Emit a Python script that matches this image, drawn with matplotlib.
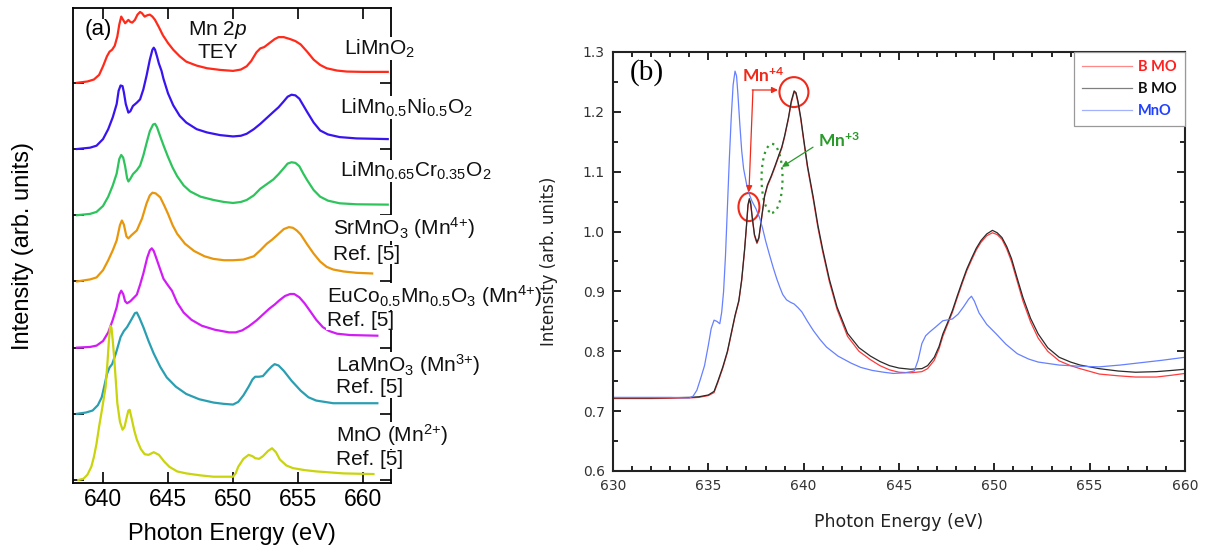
import matplotlib
matplotlib.use("Agg")
import matplotlib.pyplot as plt
from matplotlib.patches import Ellipse
from matplotlib.ticker import MultipleLocator, FormatStrFormatter

plt.rcParams['mathtext.fontset'] = 'custom'
plt.rcParams['mathtext.rm'] = 'Liberation Sans'
plt.rcParams['mathtext.it'] = 'Liberation Sans:italic'
plt.rcParams['mathtext.bf'] = 'Lato:bold'

# ---------------- Panel (a) data: Mn 2p TEY spectra (offset by integer) ----------------
limno2_e = [638.0, 638.8, 639.3, 639.7, 640.0, 640.3, 640.5, 640.7, 640.9, 641.1, 641.25, 641.4, 641.55, 641.7,
            641.85, 641.95, 642.1, 642.25, 642.45, 642.65, 642.85, 643.0, 643.2, 643.4, 643.6, 643.8, 644.0,
            644.3, 644.6, 645.0, 645.4, 645.9, 646.4, 647.2, 648.0, 649.0, 650.0, 650.6, 651.05, 651.4, 651.8,
            652.1, 652.4, 652.8, 653.2, 653.5, 653.9, 654.4, 654.8, 655.2, 655.7, 656.2, 656.7, 657.2, 658.0,
            658.75, 660.0, 661.9]
limno2_i = [0, 0.02, 0.05, 0.12, 0.25, 0.40, 0.47, 0.5, 0.56, 0.7, 0.88, 1.0, 0.95, 0.9,
            0.93, 0.95, 0.92, 0.91, 0.95, 1.03, 1.07, 1.05, 1.0, 1.02, 1.03, 1.0, 0.95,
            0.84, 0.72, 0.6, 0.5, 0.4, 0.32, 0.26, 0.22, 0.195, 0.18, 0.2, 0.25, 0.33, 0.46,
            0.52, 0.54, 0.6, 0.66, 0.69, 0.69, 0.66, 0.63, 0.58, 0.47, 0.35, 0.27, 0.22, 0.185,
            0.17, 0.165, 0.165]
lmno_ni_e = [638.0, 639.0, 639.5, 640.0, 640.4, 640.75, 641.05, 641.2, 641.35, 641.5, 641.6, 641.75, 641.95,
             642.1, 642.3, 642.6, 642.85, 643.1, 643.35, 643.6, 643.8, 643.9, 644.0, 644.15, 644.3, 644.5,
             644.65, 645.0, 645.4, 645.9, 646.4, 647.2, 648.0, 649.0, 650.0, 650.6, 651.05, 651.6, 652.1,
             652.6, 653.1, 653.5, 653.9, 654.2, 654.5, 654.8, 655.1, 655.4, 655.7, 656.2, 656.7, 657.3,
             658.2, 659.5, 661.9]
lmno_ni_i = [0, 0.02, 0.05, 0.15, 0.30, 0.48, 0.68, 0.88, 0.96, 0.95, 0.86, 0.68, 0.55,
             0.57, 0.65, 0.7, 0.75, 0.9, 1.11, 1.35, 1.5, 1.53, 1.5, 1.4, 1.29, 1.18,
             1.06, 0.84, 0.66, 0.5, 0.4, 0.3, 0.25, 0.21, 0.19, 0.2, 0.23, 0.3, 0.38,
             0.47, 0.56, 0.63, 0.72, 0.79, 0.82, 0.81, 0.76, 0.66, 0.56, 0.4, 0.28, 0.22,
             0.18, 0.16, 0.15]
lmno_cr_e = [638.0, 639.0, 639.5, 640.0, 640.4, 640.75, 641.05, 641.25, 641.4, 641.55, 641.7, 641.85, 641.95,
             642.1, 642.3, 642.6, 642.85, 643.1, 643.35, 643.6, 643.85, 644.0, 644.15, 644.4, 644.7, 645.0,
             645.35, 645.7, 646.2, 646.7, 647.5, 648.5, 649.3, 650.0, 650.6, 651.05, 651.6, 652.1, 652.6,
             653.1, 653.5, 653.9, 654.2, 654.5, 654.8, 655.1, 655.4, 655.7, 656.2, 656.7, 657.3, 658.2,
             659.5, 661.9]
lmno_cr_i = [0, 0.02, 0.05, 0.14, 0.28, 0.45, 0.63, 0.85, 0.91, 0.87, 0.74, 0.56, 0.51,
             0.55, 0.62, 0.68, 0.75, 0.9, 1.09, 1.27, 1.37, 1.38, 1.33, 1.19, 1.03, 0.88,
             0.72, 0.59, 0.45, 0.36, 0.28, 0.23, 0.2, 0.185, 0.2, 0.23, 0.3, 0.40, 0.47,
             0.54, 0.62, 0.71, 0.78, 0.8, 0.79, 0.74, 0.63, 0.53, 0.38, 0.28, 0.22, 0.18,
             0.165, 0.16]
srmno3_e = [638.0, 639.0, 639.5, 640.0, 640.4, 640.75, 641.05, 641.3, 641.45, 641.6, 641.8, 641.95, 642.2,
            642.6, 643.0, 643.35, 643.6, 643.8, 644.05, 644.4, 644.7, 645.0, 645.35, 645.7, 646.3, 647.0,
            647.8, 648.5, 649.3, 650.0, 650.8, 651.6, 652.1, 652.6, 653.0, 653.4, 653.9, 654.3, 654.6,
            654.9, 655.2, 655.7, 656.2, 656.7, 657.2, 657.7, 658.5, 659.5, 660.7]
srmno3_i = [0, 0.03, 0.06, 0.17, 0.32, 0.47, 0.62, 0.85, 0.92, 0.86, 0.68, 0.65, 0.7,
            0.77, 0.95, 1.18, 1.3, 1.34, 1.33, 1.27, 1.15, 1.02, 0.85, 0.72, 0.57, 0.46,
            0.38, 0.34, 0.32, 0.32, 0.33, 0.38, 0.47, 0.57, 0.63, 0.70, 0.79, 0.82, 0.81,
            0.77, 0.71, 0.56, 0.42, 0.3, 0.22, 0.18, 0.15, 0.13, 0.12]
eucomno_e = [638.0, 639.0, 639.5, 640.0, 640.4, 640.75, 641.05, 641.25, 641.4, 641.55, 641.7, 641.85, 642.1,
             642.4, 642.6, 642.85, 643.1, 643.4, 643.6, 643.75, 643.9, 644.1, 644.4, 644.65, 645.0, 645.3,
             645.7, 646.2, 646.8, 647.6, 648.6, 649.7, 650.2, 650.7, 651.2, 651.8, 652.3, 652.8, 653.2,
             653.6, 654.0, 654.4, 654.7, 655.1, 655.5, 655.9, 656.4, 656.9, 657.4, 658.0, 659.0, 661.1]
eucomno_i = [0, 0.01, 0.03, 0.1, 0.23, 0.42, 0.61, 0.8, 0.86, 0.81, 0.7, 0.67, 0.7,
             0.76, 0.8, 0.95, 1.12, 1.36, 1.47, 1.5, 1.46, 1.35, 1.18, 1.04, 0.94, 0.86,
             0.68, 0.53, 0.42, 0.33, 0.27, 0.23, 0.23, 0.26, 0.32, 0.41, 0.5, 0.59, 0.65,
             0.72, 0.78, 0.81, 0.81, 0.76, 0.67, 0.56, 0.42, 0.31, 0.25, 0.21, 0.19, 0.18]
lamno3_e = [638.0, 638.7, 639.2, 639.6, 639.9, 640.1, 640.3, 640.5, 640.7, 641.0, 641.35, 641.6, 641.85,
            642.2, 642.45, 642.6, 642.8, 643.1, 643.5, 643.9, 644.4, 644.9, 645.6, 646.4, 647.4, 648.5,
            649.3, 650.0, 650.4, 650.8, 651.2, 651.5, 651.7, 652.0, 652.3, 652.7, 653.0, 653.2, 653.5,
            653.9, 654.5, 655.2, 655.8, 656.4, 657.7, 659.5, 661.1]
lamno3_i = [0, 0.02, 0.05, 0.13, 0.25, 0.42, 0.6, 0.7, 0.75, 0.92, 1.16, 1.25, 1.31,
            1.43, 1.52, 1.53, 1.45, 1.31, 1.1, 0.91, 0.71, 0.55, 0.41, 0.30, 0.22, 0.17,
            0.15, 0.14, 0.18, 0.28, 0.41, 0.52, 0.56, 0.56, 0.57, 0.66, 0.72, 0.75, 0.73,
            0.65, 0.5, 0.35, 0.25, 0.2, 0.16, 0.16, 0.16]
mno_a_e = [638.1, 638.5, 638.8, 639.1, 639.3, 639.5, 639.7, 639.95, 640.2, 640.35, 640.45, 640.55, 640.65,
           640.75, 640.85, 641.0, 641.1, 641.3, 641.5, 641.65, 641.8, 641.95, 642.05, 642.2, 642.4, 642.6,
           642.9, 643.2, 643.5, 643.9, 644.3, 644.7, 645.1, 645.7, 646.4, 647.5, 648.5, 649.5, 650.0,
           650.2, 650.4, 650.8, 651.2, 651.5, 651.7, 652.0, 652.3, 652.7, 653.0, 653.3, 653.6, 654.1,
           654.6, 655.5, 656.4, 658.5, 660.8]
mno_a_i = [0, 0.02, 0.08, 0.2, 0.35, 0.55, 0.81, 1.1, 1.41, 1.8, 2.1, 2.33, 2.3,
           2.1, 1.87, 1.45, 1.16, 0.88, 0.76, 0.8, 0.93, 1.05, 1.06, 0.93, 0.75, 0.61,
           0.47, 0.39, 0.38, 0.42, 0.38, 0.28, 0.2, 0.13, 0.10, 0.07, 0.05, 0.05, 0.05,
           0.1, 0.2, 0.32, 0.38, 0.36, 0.33, 0.32, 0.36, 0.44, 0.48, 0.42, 0.31, 0.22,
           0.18, 0.15, 0.13, 0.1, 0.09]

a_offsets = [6, 5, 4, 3, 2, 1, 0]
a_colors = ['#ff2a1a', '#3a14f0', '#2ec45c', '#e8960c', '#d21cf5', '#2a9fb2', '#c9d40c']
a_curves = [(limno2_e, limno2_i), (lmno_ni_e, lmno_ni_i), (lmno_cr_e, lmno_cr_i), (srmno3_e, srmno3_i),
            (eucomno_e, eucomno_i), (lamno3_e, lamno3_i), (mno_a_e, mno_a_i)]

# ---------------- Panel (b) data ----------------
bmo_k_e = [630.0, 632.0, 634.0, 634.5, 635.0, 635.3, 635.5, 635.76, 636.0, 636.2, 636.4, 636.6, 636.75, 636.9,
           637.0, 637.08, 637.15, 637.22, 637.3, 637.42, 637.55, 637.65, 637.8, 637.95, 638.1, 638.3, 638.5,
           638.7, 638.85, 639.0, 639.2, 639.35, 639.5, 639.6, 639.7, 639.85, 640.0, 640.2, 640.5, 640.75,
           641.0, 641.35, 641.75, 642.3, 642.9, 643.5, 644.0, 644.5, 645.0, 645.6, 646.2, 646.5, 646.85,
           647.1, 647.3, 647.55, 647.8, 648.05, 648.3, 648.55, 648.8, 649.05, 649.3, 649.6, 649.9, 650.15,
           650.4, 650.65, 650.9, 651.2, 651.5, 651.9, 652.3, 652.8, 653.4, 654.0, 654.5, 655.5, 656.5,
           657.4, 658.5, 659.3, 660.0]
bmo_k_i = [0.722, 0.722, 0.723, 0.724, 0.727, 0.733, 0.75, 0.774, 0.80, 0.83, 0.86, 0.885, 0.92, 0.97,
           1.01, 1.045, 1.055, 1.048, 1.025, 0.995, 0.982, 0.99, 1.025, 1.06, 1.078, 1.093, 1.11,
           1.128, 1.141, 1.16, 1.19, 1.218, 1.235, 1.232, 1.218, 1.19, 1.155, 1.11, 1.058, 1.01,
           0.97, 0.92, 0.874, 0.83, 0.806, 0.792, 0.783, 0.776, 0.772, 0.770, 0.771, 0.776, 0.79,
           0.808, 0.829, 0.848, 0.868, 0.892, 0.915, 0.937, 0.955, 0.972, 0.985, 0.996, 1.002, 0.998,
           0.99, 0.975, 0.955, 0.922, 0.89, 0.855, 0.829, 0.806, 0.79, 0.782, 0.777, 0.771, 0.767,
           0.765, 0.766, 0.768, 0.77]
bmo_r_e = [630.0, 632.0, 634.0, 634.5, 635.0, 635.3, 635.5, 635.76, 636.0, 636.2, 636.4, 636.6, 636.75, 636.9,
           637.0, 637.08, 637.15, 637.22, 637.3, 637.42, 637.55, 637.65, 637.8, 637.95, 638.1, 638.3, 638.5,
           638.7, 638.85, 639.0, 639.2, 639.35, 639.5, 639.6, 639.7, 639.85, 640.0, 640.2, 640.5, 640.75,
           641.0, 641.35, 641.75, 642.3, 642.9, 643.5, 644.0, 644.5, 645.0, 645.6, 646.2, 646.5, 646.85,
           647.1, 647.3, 647.55, 647.8, 648.05, 648.3, 648.55, 648.8, 649.05, 649.3, 649.6, 649.9, 650.15,
           650.4, 650.65, 650.9, 651.2, 651.5, 651.9, 652.3, 652.8, 653.4, 654.0, 654.5, 655.5, 656.5,
           657.4, 658.5, 659.3, 660.0]
bmo_r_i = [0.721, 0.721, 0.722, 0.723, 0.726, 0.731, 0.748, 0.772, 0.798, 0.828, 0.858, 0.883, 0.918, 0.968,
           1.008, 1.043, 1.052, 1.046, 1.023, 0.993, 0.98, 0.988, 1.023, 1.058, 1.076, 1.091, 1.108,
           1.126, 1.139, 1.158, 1.188, 1.215, 1.233, 1.23, 1.215, 1.187, 1.152, 1.107, 1.054, 1.006,
           0.966, 0.916, 0.87, 0.825, 0.8, 0.786, 0.776, 0.769, 0.765, 0.764, 0.766, 0.771, 0.785,
           0.804, 0.825, 0.845, 0.865, 0.889, 0.912, 0.934, 0.952, 0.969, 0.982, 0.993, 0.998, 0.995,
           0.987, 0.971, 0.95, 0.917, 0.884, 0.849, 0.822, 0.8, 0.784, 0.776, 0.771, 0.762, 0.759,
           0.757, 0.757, 0.76, 0.763]
mno_b_e = [630.0, 633.0, 634.0, 634.2, 634.4, 634.6, 634.8, 635.0, 635.15, 635.3, 635.45, 635.6, 635.7, 635.8,
           635.9, 636.0, 636.1, 636.2, 636.3, 636.4, 636.48, 636.55, 636.65, 636.75, 636.85, 637.0, 637.15,
           637.3, 637.5, 637.7, 637.85, 638.0, 638.2, 638.4, 638.6, 638.75, 638.9, 639.1, 639.3, 639.5,
           639.7, 639.9, 640.2, 640.5, 640.85, 641.2, 641.8, 642.5, 643.0, 643.6, 644.2, 644.7, 645.3,
           645.8, 646.0, 646.2, 646.4, 646.6, 646.9, 647.3, 647.8, 648.1, 648.4, 648.65, 648.8, 648.95,
           649.2, 649.6, 650.1, 650.6, 651.2, 651.8, 652.3, 653.4, 654.5, 655.5, 656.6, 657.7, 658.8, 660.0]
mno_b_i = [0.723, 0.723, 0.722, 0.725, 0.735, 0.755, 0.776, 0.81, 0.838, 0.852, 0.85, 0.846, 0.865, 0.9,
           0.96, 1.04, 1.12, 1.19, 1.245, 1.268, 1.26, 1.23, 1.18, 1.135, 1.105, 1.08, 1.062,
           1.05, 1.038, 1.022, 1.005, 0.985, 0.962, 0.94, 0.92, 0.907, 0.895, 0.886, 0.882, 0.879,
           0.873, 0.866, 0.85, 0.835, 0.82, 0.807, 0.792, 0.78, 0.773, 0.768, 0.765, 0.763, 0.764,
           0.767, 0.785, 0.813, 0.826, 0.832, 0.84, 0.851, 0.854, 0.862, 0.875, 0.887, 0.892, 0.884,
           0.864, 0.845, 0.829, 0.812, 0.796, 0.787, 0.782, 0.777, 0.775, 0.774, 0.777, 0.781, 0.785, 0.79]

fig = plt.figure(figsize=(12.11, 5.59), dpi=100)

# ======================= Panel (a) =======================
axa = fig.add_axes([73/1211, 1-483/559, (391-73)/1211, (483-8)/559])
for (e, v), off, c in zip(a_curves, a_offsets, a_colors):
    axa.plot(e, [vi + off for vi in v], color=c, lw=1.6, solid_joinstyle='round')
axa.set_xlim(637.69, 662.15)
axa.set_ylim(-0.045, 7.13)
axa.set_xticks([640, 645, 650, 655, 660])
axa.set_yticks([0, 1, 2, 3, 4, 5, 6])
axa.tick_params(direction='in', length=8, width=1.2, top=True, right=True,
                labelleft=False, labelsize=16.5)
for lab in axa.get_xticklabels():
    lab.set_fontfamily('Liberation Sans')
for s in axa.spines.values():
    s.set_linewidth(1.3)
axa.set_xlabel('Photon Energy (eV)', fontsize=17, family='Liberation Sans', labelpad=9)
axa.set_ylabel('Intensity (arb. units)', fontsize=17, family='Liberation Sans', labelpad=28)

tf = dict(fontsize=15, family='Liberation Sans', color='#111111')
box = dict(facecolor='white', edgecolor='none', pad=0.2)
axa.text(638.6, 6.8, '(a)', va='center', ha='left', fontsize=16, family='Liberation Sans')
axa.text(648.85, 6.8, 'Mn 2$\\it{p}$', va='center', ha='center', **tf)
axa.text(648.85, 6.46, 'TEY', va='center', ha='center', **tf)
a_labels = ['LiMnO$_2$', 'LiMn$_{0.5}$Ni$_{0.5}$O$_2$', 'LiMn$_{0.65}$Cr$_{0.35}$O$_2$',
            'SrMnO$_3$ (Mn$^{4{+}}$)', 'Ref. [5]', 'EuCo$_{0.5}$Mn$_{0.5}$O$_3$ (Mn$^{4{+}}$)', 'Ref. [5]',
            'LaMnO$_3$ (Mn$^{3{+}}$)', 'Ref. [5]', 'MnO (Mn$^{2{+}}$)', 'Ref. [5]']
a_lab_x = [658.5, 658.2, 658.2, 657.7, 657.7, 657.2, 657.2, 657.9, 657.9, 657.9, 657.9]
a_lab_y = [6.43, 5.54, 4.58, 3.70, 3.32, 2.67, 2.33, 1.64, 1.31, 0.57, 0.23]
for t, x, y in zip(a_labels, a_lab_x, a_lab_y):
    axa.text(x, y, t, va='baseline', ha='left', bbox=box, zorder=5, **tf)

# ======================= Panel (b) =======================
axb = fig.add_axes([613/1211, 1-471/559, (1185-613)/1211, (471-52)/559])
lr, = axb.plot(bmo_r_e, bmo_r_i, color='#ff3b3b', lw=0.9, label='B MO')
lk, = axb.plot(bmo_k_e, bmo_k_i, color='#2a2a2a', lw=0.9, label='B MO')
lb, = axb.plot(mno_b_e, mno_b_i, color='#6680ff', lw=0.9, label='MnO')
axb.set_xlim(630, 660)
axb.set_ylim(0.6, 1.3)
axb.xaxis.set_major_locator(MultipleLocator(5))
axb.xaxis.set_minor_locator(MultipleLocator(1))
axb.yaxis.set_major_locator(MultipleLocator(0.1))
axb.yaxis.set_minor_locator(MultipleLocator(0.05))
axb.yaxis.set_major_formatter(FormatStrFormatter('%.1f'))
axb.tick_params(which='both', direction='in', top=True, right=True, width=1.2,
                labelsize=10, labelcolor='#333333', pad=6)
axb.tick_params(which='major', length=6)
axb.tick_params(which='minor', length=3.5)
for lab in axb.get_xticklabels() + axb.get_yticklabels():
    lab.set_fontfamily('DejaVu Sans')
for s in axb.spines.values():
    s.set_linewidth(1.5)
    s.set_color('#222222')
axb.set_xlabel('Photon Energy (eV)', fontsize=12.5, family='DejaVu Sans', color='#222222', labelpad=14)
axb.set_ylabel('Intensity (arb. units)', fontsize=12, family='DejaVu Sans', color='#222222', labelpad=18)

axb.text(630.9, 1.265, '(b)', fontsize=21, family='Liberation Serif', va='center', ha='left')

leg = axb.legend(handles=[lr, lk, lb], loc='upper right', bbox_to_anchor=(1.0, 1.0), borderaxespad=0,
                 fancybox=False, edgecolor='#999999', framealpha=1, handlelength=3.4, handletextpad=0.45,
                 labelspacing=0.55, borderpad=0.55, prop={'family': 'Lato', 'weight': 'bold', 'size': 10.5})
leg.get_frame().set_linewidth(0.9)
for txt, c in zip(leg.get_texts(), ['#ff2020', '#111111', '#2040ff']):
    txt.set_color(c)
for h in leg.legend_handles:
    h.set_alpha(0.6)

red = '#f02a1a'
axb.add_patch(Ellipse((637.13, 1.041), 1.10, 0.047, fill=False, ec=red, lw=1.5))
axb.add_patch(Ellipse((639.49, 1.233), 1.52, 0.050, fill=False, ec=red, lw=1.5))
axb.text(636.75, 1.25, '$\\mathbf{Mn^{+4}}$', color=red, fontsize=12.5, ha='left', va='baseline')
axb.annotate('', xy=(638.65, 1.2365), xytext=(637.3, 1.2365),
             arrowprops=dict(arrowstyle='-|>', color=red, lw=0.9, mutation_scale=9, shrinkA=0, shrinkB=0))
axb.annotate('', xy=(637.13, 1.066), xytext=(637.34, 1.2365),
             arrowprops=dict(arrowstyle='-|>', color=red, lw=0.9, mutation_scale=9, shrinkA=0, shrinkB=0))

green = '#2a9a2a'
axb.add_patch(Ellipse((638.34, 1.089), 1.1, 0.115, angle=0, fill=False, ec=green, lw=1.6, ls=(0, (1, 2))))
axb.text(640.75, 1.141, '$\\mathbf{Mn^{+3}}$', color=green, fontsize=12.5, ha='left', va='baseline')
axb.annotate('', xy=(638.86, 1.108), xytext=(640.49, 1.141),
             arrowprops=dict(arrowstyle='-|>', color=green, lw=0.9, mutation_scale=9, shrinkA=0, shrinkB=0))

fig.savefig('out.png', dpi=100)
